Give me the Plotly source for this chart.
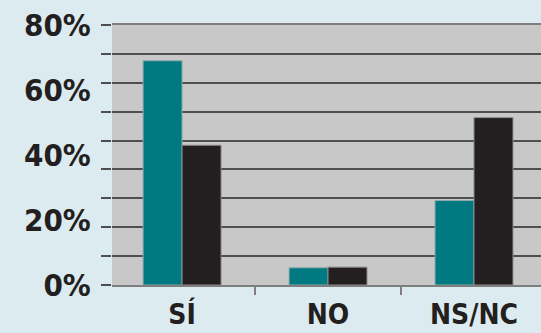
import plotly.graph_objects as go

categories = ["SÍ", "NO", "NS/NC"]
serie_a = [69, 5.3, 26]
serie_b = [43, 5.5, 51.5]
tick_values = [0, 20, 40, 60, 80]
tick_labels = ["0%", "20%", "40%", "60%", "80%"]

FONT = "Liberation Sans Narrow, Arial Narrow, DejaVu Sans Condensed, sans-serif"
DARK = "#231f20"

fig = go.Figure()
fig.add_trace(go.Bar(x=categories, y=serie_a, marker=dict(color="#007a80", line=dict(color="#8fa9ab", width=1)), showlegend=False))
fig.add_trace(go.Bar(x=categories, y=serie_b, marker=dict(color=DARK, line=dict(color="#8a8a8a", width=1)), showlegend=False))

fig.update_layout(
    width=541, height=333,
    margin=dict(l=112, r=0, t=25, b=48),
    paper_bgcolor="#dcebef",
    plot_bgcolor="#c8c8c9",
    barmode="group",
    bargap=0.466,
    bargroupgap=0,
    font=dict(family=FONT, color=DARK),
)
fig.update_xaxes(
    range=[-0.48, 2.459], automargin=False,
    showline=True, linecolor="#7f7f7f", linewidth=2, mirror=True,
    ticks="outside", tickson="boundaries", ticklen=8, tickcolor="#7f7f7f", tickwidth=2,
    ticklabelstandoff=3,
    tickfont=dict(size=28, family=FONT, color=DARK, weight="bold"),
    showgrid=False,
)
fig.update_yaxes(
    range=[0, 80], automargin=False,
    tickvals=tick_values, ticktext=tick_labels,
    showgrid=False, zeroline=False,
    ticks="outside", ticklen=14, tickcolor="rgba(0,0,0,0)",
    tickfont=dict(size=31, family=FONT, color=DARK, weight="bold"),
    minor=dict(tick0=0, dtick=80/9, showgrid=True, gridcolor="#4f4f4f", gridwidth=1.5,
               ticks="outside", ticklen=10, tickcolor="#4f4f4f", tickwidth=1.5),
)

fig.write_html("out.html")
